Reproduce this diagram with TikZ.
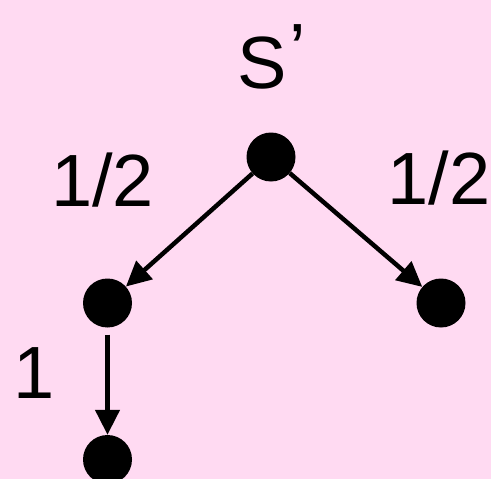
\documentclass[tikz,border=0pt]{standalone}
\usepackage{fontspec}
\setmainfont{Liberation Sans}
\usetikzlibrary{arrows.meta}
\definecolor{bgpink}{RGB}{255,218,242}
\begin{document}
\begin{tikzpicture}[x=1pt,y=-1pt,
  dot/.style={circle,fill=black,inner sep=0pt,minimum size=49pt},
  lbl/.style={font=\fontsize{74}{74}\selectfont,inner sep=0pt},
  edge/.style={line width=4.5pt,-{Triangle[length=25pt,width=24pt]}}]
\fill[bgpink] (0,0) rectangle (491,479);
\useasboundingbox (0,0) rectangle (491,479);
\node[dot] (t) at (271,157) {};
\node[dot] (l) at (107.5,303) {};
\node[dot] (r) at (441,303) {};
\node[dot] (b) at (107.5,459.5) {};
\node[lbl] (s) at (262,56.5) {S\rlap{\hspace{3pt}\raisebox{13pt}{’}}};
\node[lbl] (ll) at (102.5,180.5) {1/2};
\node[lbl] (rl) at (439,178.5) {1/2};
\node[lbl] (one) at (34,373) {1};
\draw[edge] (t) -- (l);
\draw[edge] (t) -- (r);
\draw[edge,shorten <=7pt] (l) -- (b);
\end{tikzpicture}
\end{document}
